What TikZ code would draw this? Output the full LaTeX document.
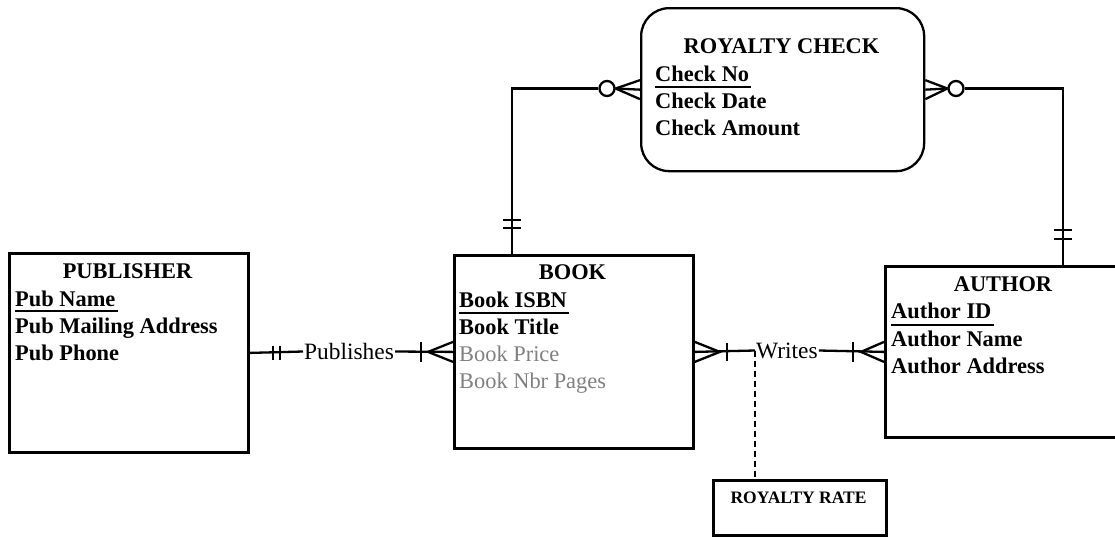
\documentclass[tikz,border=0pt]{standalone}
\usepackage{fontspec}
\setmainfont{Liberation Serif}
\usetikzlibrary{calc}
\definecolor{attrgray}{HTML}{808080}
\tikzset{
  entity/.style={draw, line width=2.8pt, inner sep=0pt, anchor=north west},
  attrb/.style={inner sep=0pt, anchor=base west, font=\bfseries\fontsize{22.4}{27}\selectfont},
  attrg/.style={inner sep=0pt, anchor=base west, text=attrgray, font=\fontsize{22.4}{27}\selectfont},
  etitle/.style={inner sep=0pt, anchor=base, font=\bfseries\fontsize{22.4}{27}\selectfont},
  conn/.style={line width=2.3pt},
  ul/.style={line width=1.6pt},
  rel/.style={inner sep=1pt, anchor=west, font=\fontsize{23.4}{27}\selectfont},
  opt/.style={draw, circle, line width=2.3pt, minimum size=15pt, inner sep=0pt}
}
\begin{document}
\begin{tikzpicture}[x=1pt,y=-1pt]
\useasboundingbox (0,0) rectangle (1115,536);
\fill[white] (0,0) rectangle (1115,536);
\clip (0,0) rectangle (1115,536);

% entity boxes
\node[entity, minimum width=239pt, minimum height=199pt] (pub) at (8,252) {};
\node[entity, minimum width=239pt, minimum height=193pt] (book) at (453,254) {};
\node[entity, minimum width=250pt, minimum height=171pt] (author) at (884,265) {};
\node[draw, line width=2.3pt, rounded corners=28pt, minimum width=283pt, minimum height=163pt, anchor=north west, inner sep=0pt] (rc) at (640,7) {};
\node[entity, minimum width=173pt, minimum height=55pt] (rr) at (712,479) {};

% PUBLISHER
\node[etitle] (pubt) at (127.5,278) {PUBLISHER};
\node[attrb] (pub1) at (15,306) {Pub Name};
\draw[ul] ($(pub1.base west)+(0,5)$) -- ($(pub1.base east)+(2,5)$);
\node[attrb] (pub2) at (15,333) {Pub Mailing Address};
\node[attrb] (pub3) at (15,360) {Pub Phone};

% BOOK
\node[etitle] (bookt) at (572.5,279) {BOOK};
\node[attrb] (book1) at (459,307) {Book ISBN};
\draw[ul] ($(book1.base west)+(0,6)$) -- ($(book1.base east)+(2,6)$);
\node[attrb] (book2) at (459,334) {Book Title};
\node[attrg] (book3) at (459,361) {Book Price};
\node[attrg] (book4) at (459,388) {Book Nbr Pages};

% AUTHOR
\node[etitle] (autht) at (1003,291) {AUTHOR};
\node[attrb] (auth1) at (891,318) {Author ID};
\draw[ul] ($(auth1.base west)+(0,7)$) -- ($(auth1.base east)+(2,7)$);
\node[attrb] (auth2) at (891,346) {Author Name};
\node[attrb] (auth3) at (891,373) {Author Address};

% ROYALTY CHECK
\node[etitle] (rct) at (781.5,53) {ROYALTY CHECK};
\node[attrb] (rc1) at (655,81) {Check No};
\draw[ul] ($(rc1.base west)+(0,6)$) -- ($(rc1.base east)+(2,6)$);
\node[attrb] (rc2) at (655,108) {Check Date};
\node[attrb] (rc3) at (655,135) {Check Amount};

% ROYALTY RATE
\node[inner sep=0pt, anchor=base, font=\bfseries\fontsize{17.5}{20}\selectfont] (rrt) at (798.5,503) {ROYALTY RATE};

% Publishes relationship
\node[rel] (publishes) at (303,351.5) {Publishes};
\draw[conn] (pub.east) -- (publishes.west);
\draw[conn] (publishes.east) -- (book.west);
\draw[conn] ($(pub.east)+(23,-7)$) -- ++(0,14);
\draw[conn] ($(pub.east)+(30,-7)$) -- ++(0,14);
\draw[conn] ($(book.west)+(-32,-10)$) -- ++(0,20);
\draw[conn] ($(book.west)+(0,-10)$) -- ($(book.west)+(-25,0)$) -- ($(book.west)+(0,10)$);

% Writes relationship
\node[rel] (writes) at (755,350.5) {Writes};
\draw[conn] (book.east) -- (writes.west);
\draw[conn] (writes.east) -- (author.west);
\draw[conn] ($(book.east)+(0,-10)$) -- ($(book.east)+(25,0)$) -- ($(book.east)+(0,10)$);
\draw[conn] ($(book.east)+(32,-9)$) -- ++(0,18);
\draw[conn] ($(author.west)+(-31,-10)$) -- ++(0,20);
\draw[conn] ($(author.west)+(0,-10)$) -- ($(author.west)+(-23,0)$) -- ($(author.west)+(0,10)$);
\draw[conn, dash pattern=on 6pt off 4pt] (writes.west) -- (writes.west |- rr.north);

% Book -- Royalty Check
\node[opt] (o1) at (607,88.5) {};
\draw[conn] ($(book.north west)+(59,0)$) |- (o1.west);
\draw[conn] ($(book.north west)+(50,-34)$) -- ++(18,0);
\draw[conn] ($(book.north west)+(50,-26)$) -- ++(18,0);
\draw[conn] (o1.east) -- ($(rc.west)+(0,-9.5)$);
\draw[conn] (o1.east) -- (rc.west);
\draw[conn] (o1.east) -- ($(rc.west)+(0,9.5)$);

% Author -- Royalty Check
\node[opt] (o2) at (956,88.5) {};
\draw[conn] (o2.east) -| ($(author.north west)+(179,0)$);
\draw[conn] ($(author.north west)+(170,-35)$) -- ++(18,0);
\draw[conn] ($(author.north west)+(170,-26)$) -- ++(18,0);
\draw[conn] (o2.west) -- ($(rc.east)+(0,-9.5)$);
\draw[conn] (o2.west) -- (rc.east);
\draw[conn] (o2.west) -- ($(rc.east)+(0,9.5)$);
\end{tikzpicture}
\end{document}
